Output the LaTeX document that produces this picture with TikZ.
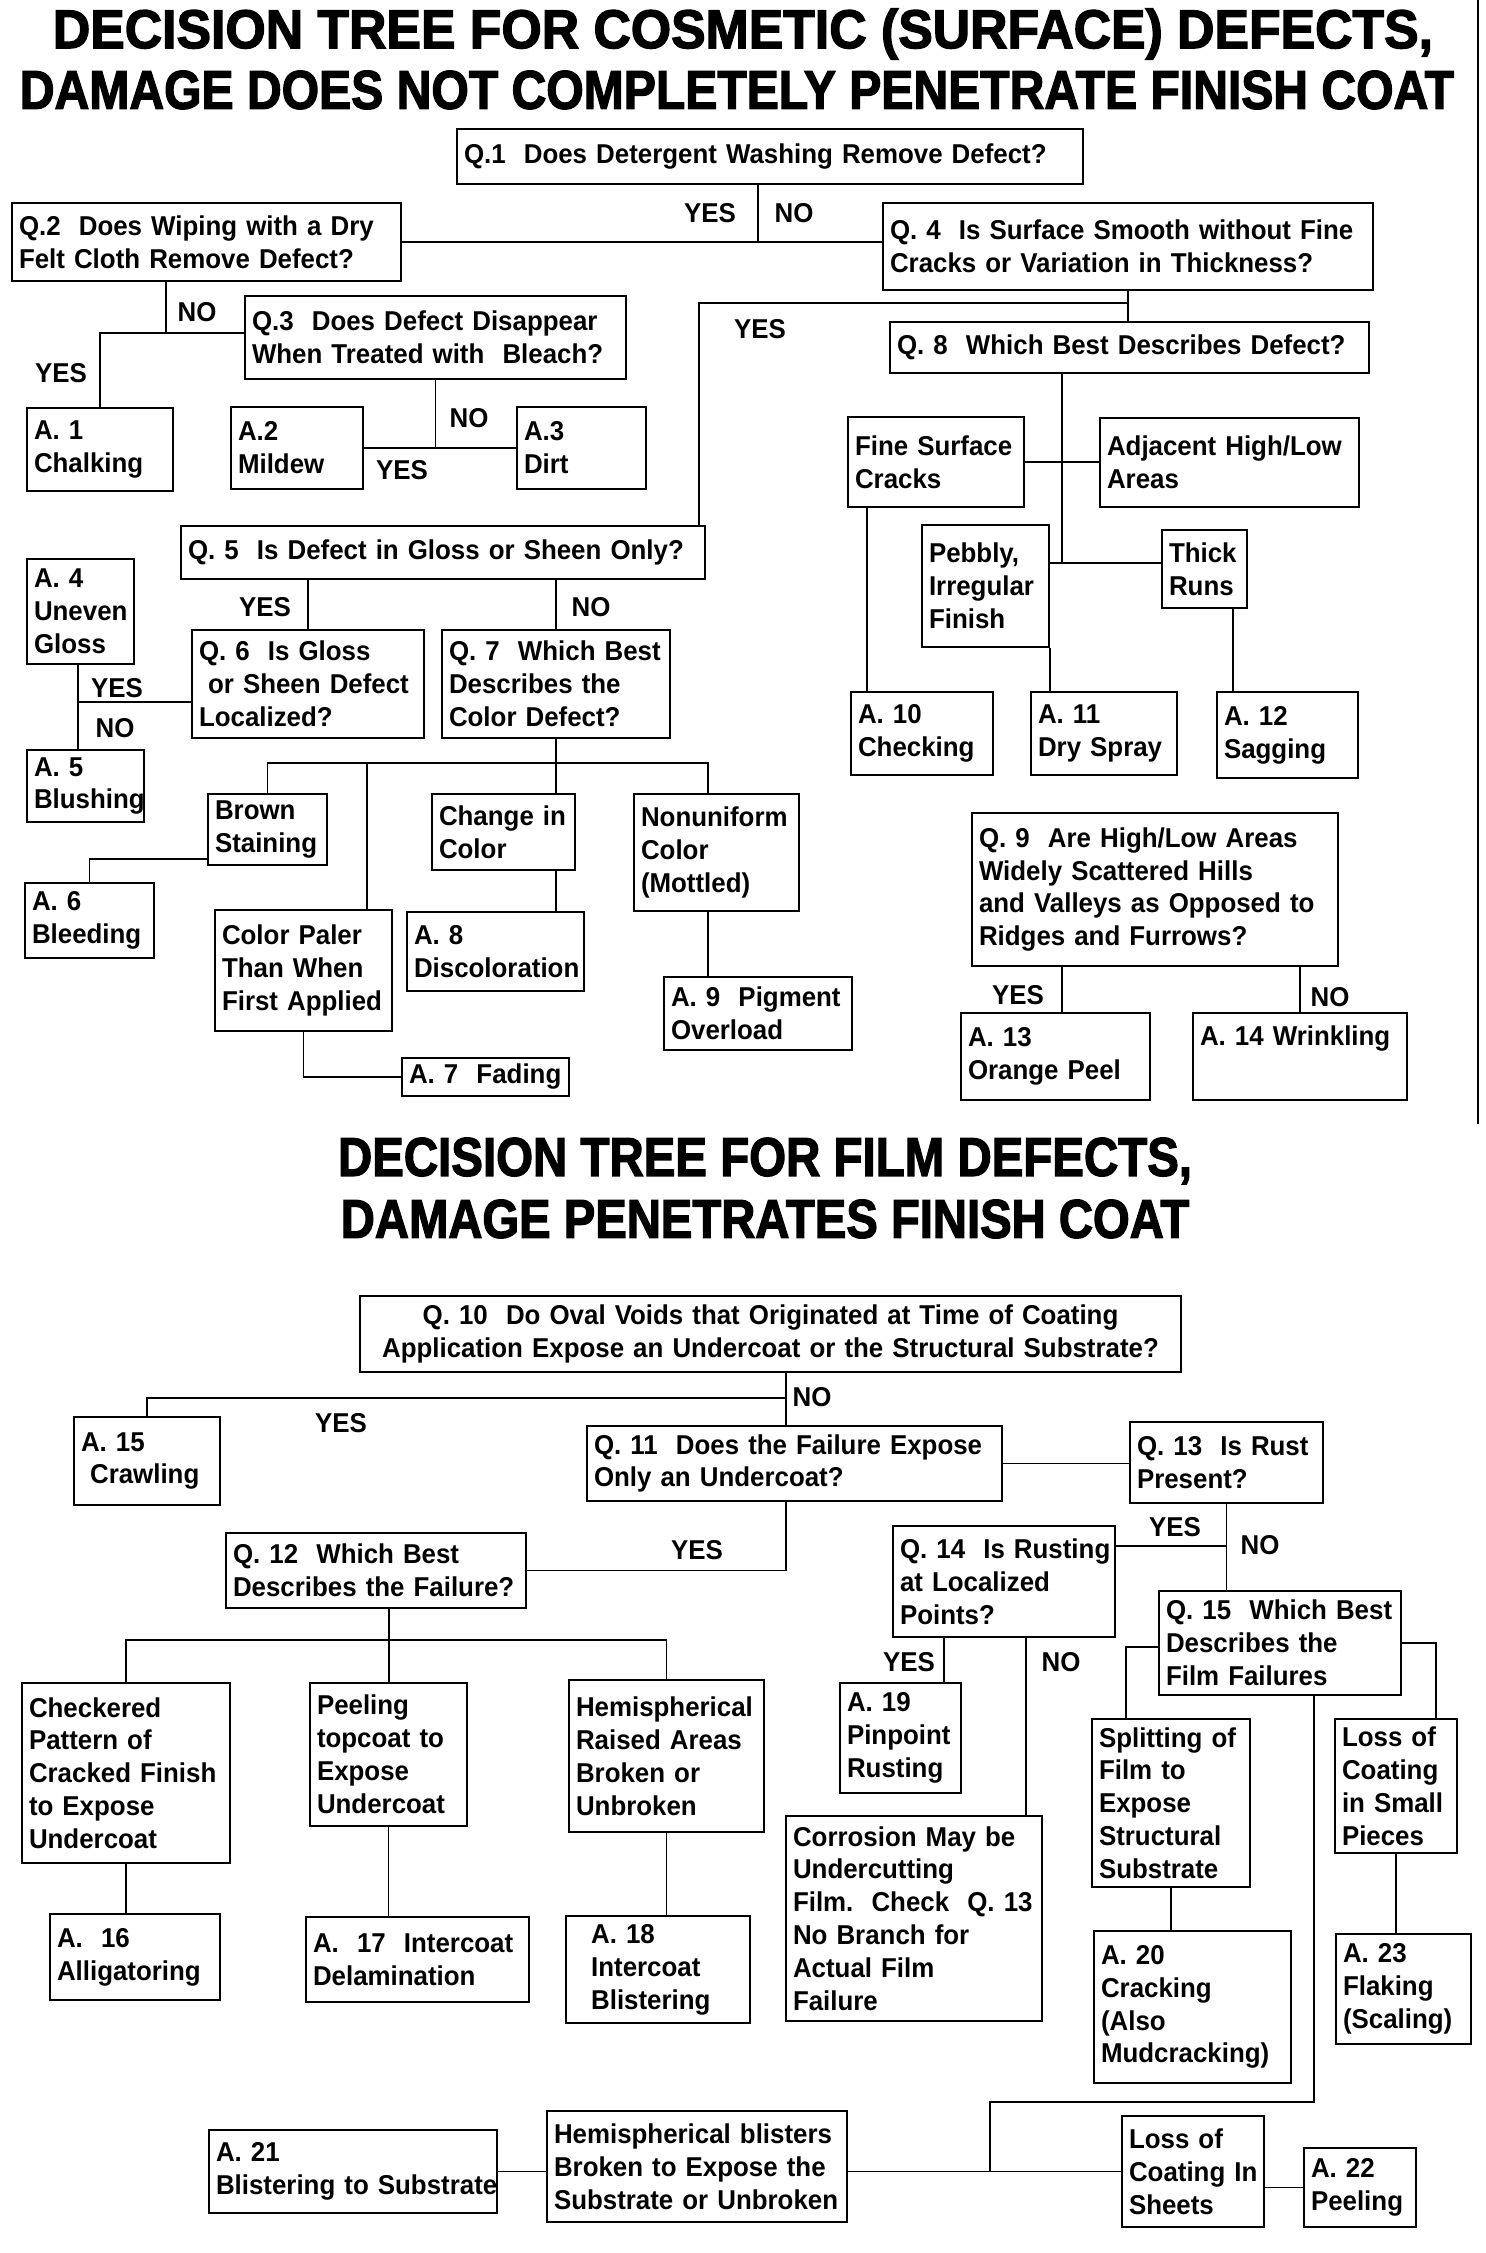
\documentclass[tikz,border=0pt]{standalone}
\usepackage{fontspec}
\usepackage{graphicx}
\setmainfont{Liberation Sans}[FakeStretch=0.95]
\newfontfamily\headfam{Liberation Sans}[FakeBold=2.5]
\newcommand\bodyfont{\fontsize{15.5}{18.7}\selectfont\bfseries}
\newcommand\ttlfont{\headfam\bfseries\fontsize{31}{36}\selectfont}

\begin{document}
\begin{tikzpicture}[x=0.2mm, y=-0.2mm,
  base/.style 2 args={draw, line width=1.3pt, inner xsep=1.4mm, inner ysep=0pt, minimum width=#1*0.2mm, minimum height=#2*0.2mm, text width=#1*0.2mm-2.8mm, font=\bodyfont},
  blk/.style 2 args={base={#1}{#2}, align=left, execute at begin node={\rightskip=-4em plus 1fil}},
  lbl/.style={font=\bodyfont, inner sep=0pt},
  ttl/.style={font=\ttlfont, inner sep=0pt},
  ln/.style={line width=1.1pt}]
  \useasboundingbox (0,0) rectangle (1485,2253);
  \node[ttl] (h1) at (743,34) {\scalebox{0.95}[1]{DECISION TREE FOR COSMETIC (SURFACE) DEFECTS,}};
  \node[ttl] (h2) at (737,90) {\scalebox{0.883}[1]{DAMAGE DOES NOT COMPLETELY PENETRATE FINISH COAT}};
  \node[blk={626}{55}] (q1) at (770,156.5) {Q.1\ \ Does Detergent Washing Remove Defect?};
  \node[blk={389}{78}] (q2) at (206.5,242) {Q.2\ \ Does Wiping with a Dry\\Felt Cloth Remove Defect?};
  \node[blk={490}{87}] (q4) at (1128,246.5) {Q. 4\ \ Is Surface Smooth without Fine\\Cracks or Variation in Thickness?};
  \node[blk={381}{83}] (q3) at (435.5,337.5) {Q.3\ \ Does Defect Disappear\\When Treated with\ \ Bleach?};
  \node[blk={479}{51}] (q8) at (1129.5,347.5) {Q. 8\ \ Which Best Describes Defect?};
  \node[blk={146}{83}] (a1) at (100,449.5) {A. 1\\Chalking};
  \node[blk={132}{82}] (a2) at (297,448) {A.2\\Mildew};
  \node[blk={129}{82}] (a3) at (581.5,448) {A.3\\Dirt};
  \node[blk={176}{90}] (fsc) at (936,462) {Fine Surface\\Cracks};
  \node[blk={259}{89}] (adj) at (1229.5,462.5) {Adjacent High/Low\\Areas};
  \node[blk={127}{122}] (peb) at (985.5,586) {Pebbly,\\Irregular\\Finish};
  \node[blk={85}{78}] (thk) at (1204.5,569) {Thick\\Runs};
  \node[blk={524}{53}] (q5) at (443,552.5) {Q. 5\ \ Is Defect in Gloss or Sheen Only?};
  \node[blk={107}{105}] (a4) at (80.5,611.5) {A. 4\\Uneven\\Gloss};
  \node[blk={232}{108}] (q6) at (308,684) {Q. 6\ \ Is Gloss\\\ or Sheen Defect\\Localized?};
  \node[blk={228}{108}] (q7) at (556,684) {Q. 7\ \ Which Best\\Describes the\\Color Defect?};
  \node[blk={117}{72}] (a5) at (85.5,786) {A. 5\\Blushing};
  \node[blk={142}{83}] (a10) at (922,733.5) {A. 10\\Checking};
  \node[blk={146}{83}] (a11) at (1104,733.5) {A. 11\\Dry Spray};
  \node[blk={141}{86}] (a12) at (1287.5,735) {A. 12\\Sagging};
  \node[blk={119}{71}] (brn) at (267.5,829.5) {Brown\\Staining};
  \node[blk={143}{76}] (chg) at (503.5,832) {Change in\\Color};
  \node[blk={165}{117}] (non) at (716.5,852.5) {Nonuniform\\Color\\(Mottled)};
  \node[blk={366}{153}] (q9) at (1155,889.5) {Q. 9\ \ Are High/Low Areas\\Widely Scattered Hills\\and Valleys as Opposed to\\Ridges and Furrows?};
  \node[blk={129}{75}] (a6) at (89.5,920.5) {A. 6\\Bleeding};
  \node[blk={177}{121}] (pal) at (303.5,970.5) {Color Paler\\Than When\\First Applied};
  \node[blk={177}{79}] (a8) at (495.5,951.5) {A. 8\\Discoloration};
  \node[blk={188}{73}] (a9) at (758,1013.5) {A. 9\ \ Pigment\\Overload};
  \node[blk={189}{87}] (a13) at (1055.5,1056.5) {A. 13\\Orange Peel};
  \node[blk={214}{87}] (a14) at (1300,1056.5) {A. 14 Wrinkling\\\strut};
  \node[blk={167}{38}] (a7) at (485.5,1077) {A. 7\ \ Fading};
  \node[lbl] (y1) at (710,213) {YES};
  \node[lbl] (n1) at (794,213) {NO};
  \node[lbl] (n2) at (197,312) {NO};
  \node[lbl] (y2) at (61,373) {YES};
  \node[lbl] (n3) at (469,418) {NO};
  \node[lbl] (y3) at (402,470) {YES};
  \node[lbl] (y4) at (760,329) {YES};
  \node[lbl] (y5) at (265,607) {YES};
  \node[lbl] (n5) at (591,607) {NO};
  \node[lbl] (y6) at (117,688) {YES};
  \node[lbl] (n6) at (115,728) {NO};
  \node[lbl] (y9) at (1018,995) {YES};
  \node[lbl] (n9) at (1330,997) {NO};
  \coordinate (j2) at (166,333);
  \coordinate (j4) at (699,303);
  \coordinate (j8) at (1062,563);
  \coordinate (j6) at (78,702);
  \coordinate (k7) at (708,763);
  \draw[ln] (q2.east) -- (q4.west |- q2.east); \draw[ln] (q1.south -| 758,0) -- (q2.east -| 758,0);
  \draw[ln] (q2.south -| j2) -- (j2) -- (q3.west |- j2); \draw[ln] (j2) -| (a1.north);
  \draw[ln] (q3.south) -- (q3.south |- a2.east); \draw[ln] (a2.east) -- (a3.west);
  \draw[ln] (q4.south) -- (q8.north -| q4.south); \draw[ln] (q4.south |- j4) -- (j4) -- (j4 |- q5.north);
  \draw[ln] (q8.south -| j8) -- (j8); \draw[ln] (fsc.east) -- (adj.west |- fsc.east); \draw[ln] (peb.east |- j8) -- (thk.west |- j8);
  \draw[ln] (fsc.south -| 867,0) -- (a10.north -| 867,0); \draw[ln] (peb.south east) -- (a11.north -| peb.south east); \draw[ln] (thk.south -| 1233,0) -- (a12.north -| 1233,0);
  \draw[ln] (q5.south -| q6.north) -- (q6.north); \draw[ln] (q5.south -| q7.north) -- (q7.north);
  \draw[ln] (q6.west |- j6) -- (j6); \draw[ln] (a4.south -| j6) -- (a5.north -| j6);
  \draw[ln] (q7.south) -- (chg.north -| q7.south); \draw[ln] (brn.north) |- (k7) -- (non.north -| k7); \draw[ln] (pal.north -| 367,0) -- (k7 -| 367,0);
  \draw[ln] (brn.west |- 0,859) -| (a6.north); \draw[ln] (chg.south -| q7.south) -- (a8.north -| q7.south);
  \draw[ln] (pal.south) |- (a7.west); \draw[ln] (non.south -| k7) -- (a9.north -| k7);
  \draw[ln] (q9.south -| 1062,0) -- (a13.north -| 1062,0); \draw[ln] (q9.south -| a14.north) -- (a14.north);
  \draw[line width=1.6pt] (1478,0) -- (1478,1124);
  \node[ttl] (h3) at (765,1161) {\scalebox{0.871}[1]{DECISION TREE FOR FILM DEFECTS,}};
  \node[ttl] (h4) at (765,1219) {\scalebox{0.867}[1]{DAMAGE PENETRATES FINISH COAT}};
  \node[base={821}{76}, align=center] (q10) at (770.5,1334) {Q. 10\ \ Do Oval Voids that Originated at Time of Coating\\Application Expose an Undercoat or the Structural Substrate?};
  \node[blk={146}{88}] (a15) at (147,1461) {A. 15\\\ Crawling};
  \node[blk={415}{75}] (q11) at (794.5,1463.5) {Q. 11\ \ Does the Failure Expose\\Only an Undercoat?};
  \node[blk={193}{81}] (q13) at (1226.5,1462.5) {Q. 13\ \ Is Rust\\Present?};
  \node[blk={300}{75}] (q12) at (376,1570.5) {Q. 12\ \ Which Best\\Describes the Failure?};
  \node[blk={222}{111}] (q14) at (1004,1581.5) {Q. 14\ \ Is Rusting\\at Localized\\Points?};
  \node[blk={242}{104}] (q15) at (1280,1643) {Q. 15\ \ Which Best\\Describes the\\Film Failures};
  \node[blk={208}{180}] (chk) at (126,1773) {Checkered\\Pattern of\\Cracked Finish\\to Expose\\Undercoat};
  \node[blk={157}{143}] (pel) at (388.5,1754.5) {Peeling\\topcoat to\\Expose\\Undercoat};
  \node[blk={195}{152}] (hem) at (666.5,1756) {Hemispherical\\Raised Areas\\Broken or\\Unbroken};
  \node[blk={121}{110}] (a19) at (900.5,1738) {A. 19\\Pinpoint\\Rusting};
  \node[blk={158}{168}] (spl) at (1171,1803) {Splitting of\\Film to\\Expose\\Structural\\Substrate};
  \node[blk={122}{134}] (los) at (1396,1786) {Loss of\\Coating\\in Small\\Pieces};
  \node[blk={256}{205}] (cor) at (914,1918.5) {Corrosion May be\\Undercutting\\Film.\ \ Check\ \ Q. 13\\No Branch for\\Actual Film\\Failure};
  \node[blk={170}{86}] (a16) at (135,1957) {A.\ \ 16\\Alligatoring};
  \node[blk={223}{85}] (a17) at (417.5,1959.5) {A.\ \ 17\ \ Intercoat\\Delamination};
  \node[blk={184}{107}] (a18) at (658,1969.5) {\ \ A. 18\\\ \ Intercoat\\\ \ Blistering};
  \node[blk={197}{152}] (a20) at (1192.5,2007) {A. 20\\Cracking\\(Also\\Mudcracking)};
  \node[blk={135}{110}] (a23) at (1403.5,1989) {A. 23\\Flaking\\(Scaling)};
  \node[blk={288}{83}] (a21) at (353,2171.5) {A. 21\\Blistering to Substrate};
  \node[blk={300}{111}] (hbl) at (697,2166.5) {Hemispherical blisters\\Broken to Expose the\\Substrate or Unbroken};
  \node[blk={142}{111}] (lsh) at (1193,2171.5) {Loss of\\Coating In\\Sheets};
  \node[blk={112}{79}] (a22) at (1360,2187.5) {A. 22\\Peeling};
  \node[lbl] (n10) at (812,1397) {NO};
  \node[lbl] (y10) at (341,1423) {YES};
  \node[lbl] (y11) at (697,1550) {YES};
  \node[lbl] (y13) at (1175,1527) {YES};
  \node[lbl] (n13) at (1260,1545) {NO};
  \node[lbl] (y14) at (909,1662) {YES};
  \node[lbl] (n14) at (1061,1662) {NO};
  \coordinate (j10) at (786,1398);
  \coordinate (j12) at (389,1640);
  \coordinate (j13) at (1226,1546);
  \coordinate (j15) at (990,2102);
  \draw[ln] (q10.south -| j10) -- (q11.north -| j10); \draw[ln] (j10) -| (a15.north);
  \draw[ln] (q11.east) -- (q13.west |- q11.east); \draw[ln] (q11.south -| j10) |- (q12.east);
  \draw[ln] (q12.south -| j12) -- (pel.north -| j12); \draw[ln] (chk.north) |- (j12) -| (hem.north);
  \draw[ln] (chk.south) -- (a16.north -| chk.south); \draw[ln] (pel.south) -- (a17.north -| pel.south); \draw[ln] (hem.south) -- (a18.north -| hem.south);
  \draw[ln] (q13.south) -- (q15.north -| q13.south); \draw[ln] (q14.east |- j13) -- (j13);
  \draw[ln] (q14.south -| 944,0) -- (a19.north -| 944,0); \draw[ln] (q14.south -| 1026,0) -- (cor.north -| 1026,0);
  \draw[ln] (q15.west |- 0,1647) -| (spl.north -| 1126,0); \draw[ln] (q15.east |- 0,1643) -| (los.north -| 1436,0);
  \draw[ln] (spl.south) -- (a20.north -| spl.south); \draw[ln] (los.south) -- (a23.north -| los.south);
  \draw[ln] (q15.south -| 1314,0) |- (j15) -- (j15 |- lsh.west); \draw[ln] (hbl.east |- lsh.west) -- (lsh.west);
  \draw[ln] (lsh.east |- a22.west) -- (a22.west); \draw[ln] (a21.east) -- (hbl.west |- a21.east);
\end{tikzpicture}
\end{document}
